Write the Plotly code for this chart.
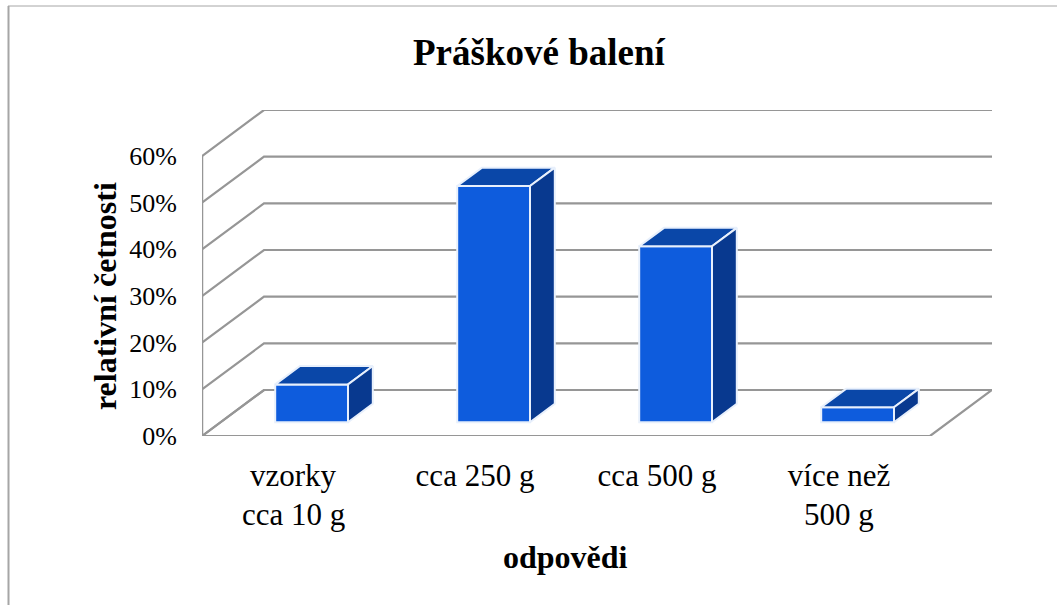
import plotly.graph_objects as go

# chart values
categories = ["vzorky", "cca 250 g", "cca 500 g", "více než"]
second_lines = ["cca 10 g", "", "", "500 g"]
values = [8.1, 50.6, 37.7, 3.2]
y_ticks = [0, 10, 20, 30, 40, 50, 60]

# colours
FRONT = "#0E5CDD"
TOP = "#0A47A8"
SIDE = "#08398F"
EDGE = "#E8F0FC"
GRID = "#969696"
BORDER = "#A6A6A6"
FONT = "Liberation Serif, Times New Roman, serif"

# oblique projection, in axis units
PX_X = 182.0
PX_Y = 280 / 60
DEPTH_X = 62 / PX_X
DEPTH_Y = 46 / PX_Y
BAR_W = 0.4
GAP_FRAC = 0.3
BAR_DEPTH = 0.4

fig = go.Figure()

n = len(categories)
centers = [i + 0.5 for i in range(n)]


def grid_shape(xs, ys, width=2.2):
    path = "M " + " L ".join(f"{x},{y}" for x, y in zip(xs, ys))
    fig.add_shape(type="path", path=path, xref="x", yref="y", layer="below",
                  line=dict(color=GRID, width=width))


# floor outline
grid_shape([0, n, n + DEPTH_X, DEPTH_X, 0], [0, 0, DEPTH_Y, DEPTH_Y, 0])
# wall gridlines
for t in y_ticks:
    grid_shape([0, DEPTH_X, n + DEPTH_X], [t, t + DEPTH_Y, t + DEPTH_Y])
grid_shape([0, 0], [0, y_ticks[-1]], width=2.5)

# front faces
shift_x = DEPTH_X * GAP_FRAC
shift_y = DEPTH_Y * GAP_FRAC
fig.add_trace(go.Bar(
    x=[c + shift_x for c in centers],
    y=values,
    base=[shift_y] * n,
    width=BAR_W,
    marker=dict(color=FRONT, line=dict(color=EDGE, width=2)),
    hovertemplate="%{y}%<extra></extra>",
    showlegend=False,
))

# top and side faces
dx = DEPTH_X * BAR_DEPTH
dy = DEPTH_Y * BAR_DEPTH
for c, v in zip(centers, values):
    x0 = c + shift_x - BAR_W / 2
    x1 = c + shift_x + BAR_W / 2
    y0 = shift_y
    y1 = shift_y + v
    fig.add_trace(go.Scatter(
        x=[x0, x1, x1 + dx, x0 + dx, x0],
        y=[y1, y1, y1 + dy, y1 + dy, y1],
        mode="lines", fill="toself", fillcolor=TOP,
        line=dict(color=EDGE, width=2), cliponaxis=False,
        hoverinfo="skip", showlegend=False,
    ))
    fig.add_trace(go.Scatter(
        x=[x1, x1 + dx, x1 + dx, x1, x1],
        y=[y0, y0 + dy, y1 + dy, y1, y0],
        mode="lines", fill="toself", fillcolor=SIDE,
        line=dict(color=EDGE, width=2), cliponaxis=False,
        hoverinfo="skip", showlegend=False,
    ))

# second lines of the category labels (the original spaces them wider than <br>)
for c, label in zip(centers, second_lines):
    if label:
        fig.add_annotation(
            x=c, xref="x", y=(436 - 514) / 326, yref="paper", yanchor="middle",
            text=label, showarrow=False,
            font=dict(family=FONT, size=31, color="#000000"),
        )

fig.add_annotation(
    text="<b>Práškové balení</b>", xref="paper", yref="paper",
    x=(539 - 202) / 790, y=(436 - 53) / 326, xanchor="center", yanchor="middle",
    showarrow=False, font=dict(family=FONT, size=37, color="#000000"),
)
fig.add_annotation(
    text="<b>relativní četnosti</b>", xref="paper", yref="paper",
    x=(105 - 202) / 790, y=(436 - 296) / 326, xanchor="center", yanchor="middle",
    textangle=-90, showarrow=False,
    font=dict(family=FONT, size=32, color="#000000"),
)
fig.add_annotation(
    text="<b>odpovědi</b>", xref="paper", yref="paper",
    x=(565 - 202) / 790, y=(436 - 557) / 326, xanchor="center", yanchor="middle",
    showarrow=False, font=dict(family=FONT, size=32, color="#000000"),
)

# chart frame, open on the right and at the bottom
fig.add_shape(type="line", xref="paper", yref="paper",
              x0=(8.5 - 202) / 790, x1=(8.5 - 202) / 790,
              y0=(436 - 605) / 326, y1=(436 - 6) / 326,
              line=dict(color=BORDER, width=2))
fig.add_shape(type="line", xref="paper", yref="paper",
              x0=(8 - 202) / 790, x1=(1057 - 202) / 790,
              y0=(436 - 6) / 326, y1=(436 - 6) / 326,
              line=dict(color=BORDER, width=1))

fig.update_layout(
    width=1057, height=605,
    margin=dict(l=202, r=65, t=110, b=169, autoexpand=False),
    paper_bgcolor="white", plot_bgcolor="rgba(0,0,0,0)",
    font=dict(family=FONT, size=26, color="#000000"),
    showlegend=False,
    xaxis=dict(
        range=[0, n + DEPTH_X],
        tickmode="array", tickvals=centers, ticktext=categories,
        tickfont=dict(size=31),
        showgrid=False, zeroline=False, showline=False, ticks="",
        ticklabelstandoff=18,
    ),
    yaxis=dict(
        range=[0, y_ticks[-1] + DEPTH_Y],
        tickmode="array", tickvals=y_ticks,
        ticktext=[f"{t}%" for t in y_ticks],
        showgrid=False, zeroline=False, showline=False, ticks="",
        ticklabelstandoff=24,
    ),
)

fig.write_html("out.html", config=dict(displayModeBar=False),
               post_script="document.body.style.margin = '0';")
